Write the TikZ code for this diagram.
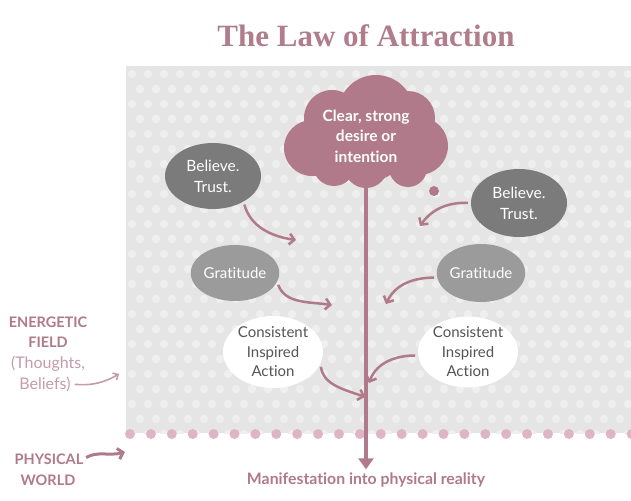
\documentclass[tikz,border=0pt]{standalone}
\usepackage{fontspec}
\setmainfont{Lato}[Ligatures=NoCommon]
\newfontfamily\titlefont{Liberation Serif}
\usetikzlibrary{shapes.geometric,arrows.meta}
\definecolor{rose}{HTML}{B07A8A}
\definecolor{rosetitle}{HTML}{B07D8C}
\definecolor{roselight}{HTML}{C49CAB}
\definecolor{pinkdot}{HTML}{DFB4C7}
\definecolor{panel}{HTML}{E5E5E5}
\definecolor{paneldot}{HTML}{EFEFEF}
\definecolor{darkoval}{HTML}{7B7B7B}
\definecolor{midoval}{HTML}{9B9B9B}
\definecolor{ovaltext}{HTML}{555555}
\tikzset{
  oval/.style={ellipse, inner sep=0pt, align=center, font=\fontsize{15.5}{21}\selectfont},
  darkbox/.style={oval, fill=darkoval, text=white},
  midbox/.style={oval, fill=midoval, text=white, font=\fontsize{15}{21}\selectfont},
  whitebox/.style={oval, fill=white, text=ovaltext, font=\fontsize{15}{19.5}\selectfont},
  flow/.style={rose, line width=2.5pt, -{Straight Barb[length=5pt,width=11pt,line width=2.5pt]}, shorten <=3pt},
  sidelabel/.style={text=rose, font=\bfseries\fontsize{14.5}{17}\selectfont, inner sep=0pt},
  sidelight/.style={text=roselight, font=\fontsize{16}{17}\selectfont, inner sep=0pt},
}
\begin{document}
\begin{tikzpicture}[x=1pt,y=1pt]
\useasboundingbox (0,0) rectangle (631,-500);
\fill[white] (0,0) rectangle (631,-500);
% panel with dots
\begin{scope}
\clip (126,-66) rectangle (631,-433);
\fill[panel] (126,-66) rectangle (631,-433);
\foreach \r in {0,...,24}{
  \pgfmathsetmacro{\yy}{-74-15*\r}
  \pgfmathsetmacro{\xo}{mod(\r,2)==0 ? 132 : 140}
  \foreach \c in {0,...,31}{
    \fill[paneldot] (\xo+16*\c,\yy) circle (4.2);
  }
}
\end{scope}
% pink dotted border
\foreach \c in {0,...,24}{
  \fill[pinkdot] (130+20.9*\c,-434) circle (5);
}
% title
\node[text=rosetitle, font=\titlefont\bfseries\fontsize{31}{34}\selectfont] (title) at (366,-36) {The Law of Attraction};
% cloud
\begin{scope}[rose]
\fill (366,-137) circle (45);
\fill (376,-113) circle (38);
\fill (332,-118) circle (28);
\fill (312,-148) circle (28);
\fill (419,-146) circle (29);
\fill (408,-118) circle (27);
\fill (334,-165) circle (21);
\fill (408,-168) circle (19);
\fill (366,-166) circle (22);
\fill (434,-191) circle (5);
\end{scope}
\node[text=white, align=center, font=\bfseries\fontsize{15.5}{20.5}\selectfont] (cloud) at (366,-136) {Clear, strong\\desire or\\intention};
% bottom text
\node[text=rose, font=\bfseries\fontsize{15.8}{17}\selectfont] (manif) at (366,-480) {Manifestation into physical reality};
\draw[rose, line width=4pt, -{Triangle[width=15pt,length=11pt]}] (cloud.south) -- (manif.north);
% ovals
\node[darkbox, minimum width=96pt, minimum height=66pt] (lb) at (213,-176) {Believe.\\Trust.};
\node[darkbox, minimum width=96pt, minimum height=68pt] (rb) at (519,-203) {Believe.\\Trust.};
\node[midbox, minimum width=84pt, minimum height=56pt] (lg) at (235,-273) {Gratitude};
\node[midbox, minimum width=82pt, minimum height=58pt] (rg) at (481,-273) {Gratitude};
\node[whitebox, minimum width=100pt, minimum height=72pt] (lc) at (273,-352) {Consistent\\Inspired\\Action};
\node[whitebox, minimum width=100pt, minimum height=70pt] (rc) at (468,-352) {Consistent\\Inspired\\Action};
% arrow ends
\coordinate (e1) at (296,-240);
\coordinate (e2) at (420,-226);
\coordinate (e3) at (332,-305);
\coordinate (e4) at (386,-304);
\coordinate (e5) at (365,-397);
\coordinate (e6) at (369,-383);
\draw[flow] (lb.-40) to[out=-75,in=172] (e1);
\draw[flow] (rb.180) to[out=178,in=55] (e2);
\draw[flow] (lg.-12) to[out=-70,in=172] (e3);
\draw[flow] (rg.186) to[out=180,in=65] (e4);
\draw[flow] (lc.-14) to[out=-82,in=160] (e5);
\draw[flow] (rc.184) to[out=180,in=70] (e6);
% side labels
\node[sidelabel] (en1) at (48,-322) {ENERGETIC};
\node[sidelabel] (en2) at (48,-342) {FIELD};
\node[sidelight] (th) at (48,-364) {(Thoughts,};
\node[sidelight] (bel) at (45,-384) {Beliefs)};
\coordinate (ea) at (119,-374);
\draw[roselight, line width=1.6pt, -{Straight Barb[length=4pt,width=8pt,line width=1.6pt]}, shorten <=4pt] (bel.east) to[out=-5,in=210] (ea);
\node[sidelabel] (ph1) at (49,-459) {PHYSICAL};
\node[sidelabel] (ph2) at (48,-480) {WORLD};
\coordinate (pa) at (125,-452);
\draw[rose, line width=3pt, -{Straight Barb[length=5pt,width=11pt,line width=3pt]}, shorten <=3pt] (ph1.east) to[out=30,in=195] (pa);
\end{tikzpicture}
\end{document}
